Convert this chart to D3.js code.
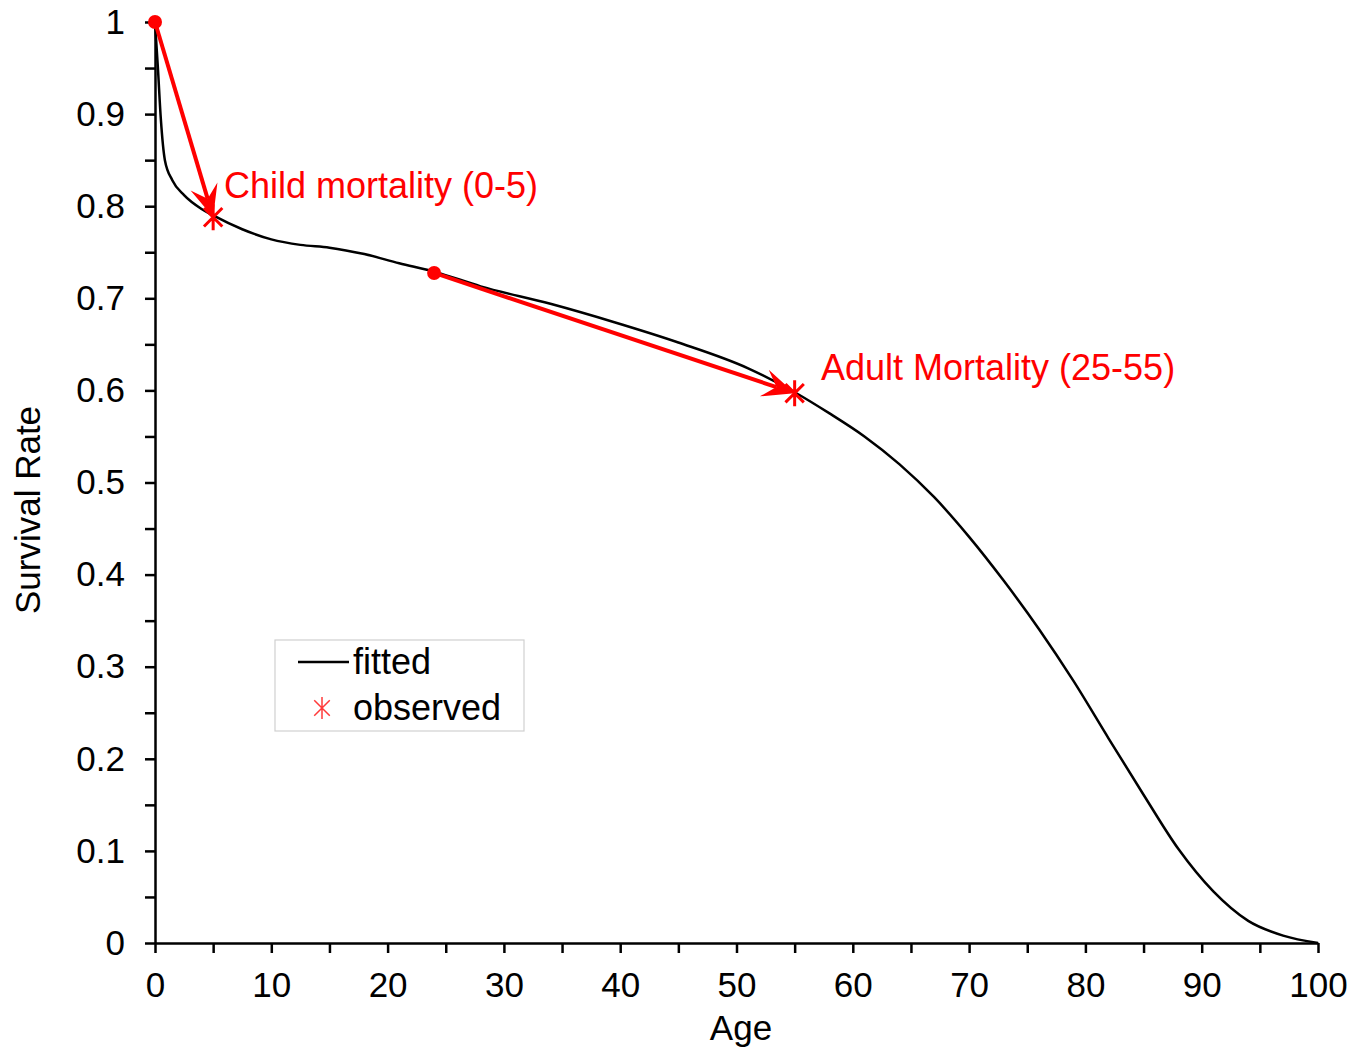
<!DOCTYPE html>
<html>
<head>
<meta charset="utf-8">
<script src="https://cdn.jsdelivr.net/npm/d3@7"></script>
<style>
  body { margin: 0; background: #fff; }
  text { font-family: "Liberation Sans", Arial, sans-serif; }
</style>
</head>
<body>
<div id="chart"></div>
<script>
(() => {

    ////////////////////////////////////
    ////////////// data ////////////////
    ////////////////////////////////////

    // fitted survival curve
    const ages = [0, 0.25, 0.5, 0.85, 1.5, 2.5, 4, 5, 7.5, 10, 12.5, 15, 18, 21, 24, 28, 34, 39.5, 45, 51, 55, 58, 61, 64, 67, 70, 73, 76, 79, 82, 85, 88, 91, 94, 97, 100]
    const fitted = [1, 0.95, 0.895, 0.85, 0.828, 0.812, 0.797, 0.79, 0.775, 0.764, 0.758, 0.755, 0.748, 0.738, 0.729, 0.713, 0.694, 0.674, 0.652, 0.624, 0.598, 0.575, 0.55, 0.52, 0.484, 0.441, 0.393, 0.341, 0.284, 0.222, 0.161, 0.102, 0.056, 0.024, 0.008, 0]

    // observed points (the arrow ends) and where each arrow starts
    const observedAges = [5, 55]
    const observed = [0.788, 0.597]
    const startAges = [0, 24]
    const startValues = [1, 0.7275]
    const annotations = ['Child mortality (0-5)', 'Adult Mortality (25-55)']

    const xTicks = d3.range(0, 101, 5)
    const yTicks = d3.range(0, 21).map(d => d / 20)

    const curve = ages.map((a, i) => ({ age: a, s: fitted[i] }))

    ////////////////////////////////////
    //////////// SVG Setup /////////////
    ////////////////////////////////////

    const svgWidth = 1354
    const svgHeight = 1048
    const margin = { left: 155, right: 36, top: 22, bottom: 105 }

    const svg = d3.select('#chart')
        .append('svg')
        .attr('width', svgWidth)
        .attr('height', svgHeight)

    const red = '#ff0000'
    const fontSize = 35

    ////////////////////////////////////
    //////////////scales////////////////
    ////////////////////////////////////

    const xScale = d3.scaleLinear()
        .domain([0, 100])
        .range([margin.left, svgWidth - margin.right])

    const yScale = d3.scaleLinear()
        .domain([0, 1])
        .range([svgHeight - margin.bottom, margin.top])

    ////////////////////////////////////
    ///////////////axis/////////////////
    ////////////////////////////////////

    const fmt = d3.format('~g')

    const xAxis = d3.axisBottom(xScale)
        .tickValues(xTicks)
        .tickSize(10)
        .tickPadding(19)
        .tickSizeOuter(0)
        .tickFormat(d => d % 10 === 0 ? fmt(d) : '')

    const yAxis = d3.axisLeft(yScale)
        .tickValues(yTicks)
        .tickSize(10)
        .tickPadding(20)
        .tickSizeOuter(0)
        .tickFormat(d => Math.round(d * 100) % 10 === 0 ? fmt(d) : '')

    const gx = svg.append('g')
        .attr('transform', 'translate(0,' + yScale(0) + ')')
        .call(xAxis)

    const gy = svg.append('g')
        .attr('transform', 'translate(' + xScale(0) + ',0)')
        .call(yAxis)

    for (const g of [gx, gy]) {
        g.select('.domain').attr('stroke', '#000').attr('stroke-width', 2.5)
        g.selectAll('.tick line').attr('stroke', '#000').attr('stroke-width', 2.5)
        g.selectAll('.tick text')
            .attr('fill', '#000')
            .style('font-size', fontSize + 'px')
            .style('font-family', '"Liberation Sans", Arial, sans-serif')
    }

    // axis titles
    svg.append('text')
        .attr('x', 741)
        .attr('y', 1040)
        .attr('text-anchor', 'middle')
        .style('font-size', fontSize + 'px')
        .text('Age')

    svg.append('text')
        .attr('transform', 'translate(40,' + 510 + ') rotate(-90)')
        .attr('text-anchor', 'middle')
        .style('font-size', fontSize + 'px')
        .text('Survival Rate')

    ////////////////////////////////////
    ////////////// DOM /////////////////
    ////////////////////////////////////

    const line = d3.line()
        .x(d => xScale(d.age))
        .y(d => yScale(d.s))
        .curve(d3.curveMonotoneX)

    svg.append('path')
        .datum(curve)
        .attr('d', line)
        .attr('fill', 'none')
        .attr('stroke', '#000')
        .attr('stroke-width', 2.5)

    // star marker (x plus a vertical bar), like the spreadsheet one
    const star = (r) => {
        const d = r * Math.SQRT1_2
        return 'M' + (-d) + ',' + (-d) + 'L' + d + ',' + d +
            'M' + (-d) + ',' + d + 'L' + d + ',' + (-d) +
            'M0,' + (-r) + 'L0,' + r
    }

    const arrows = observedAges.map((a, i) => ({
        x0: xScale(startAges[i]), y0: yScale(startValues[i]),
        x1: xScale(a), y1: yScale(observed[i]),
        label: annotations[i]
    }))

    const headLen = 32, headHalf = 14, notch = 0.6

    arrows.forEach(d => {
        const dx = d.x1 - d.x0, dy = d.y1 - d.y0
        const len = Math.hypot(dx, dy)
        const ux = dx / len, uy = dy / len
        const px = -uy, py = ux
        const bx = d.x1 - ux * headLen, by = d.y1 - uy * headLen
        const nx = d.x1 - ux * headLen * notch, ny = d.y1 - uy * headLen * notch

        svg.append('line')
            .attr('x1', d.x0).attr('y1', d.y0)
            .attr('x2', nx).attr('y2', ny)
            .attr('stroke', red)
            .attr('stroke-width', 4)

        svg.append('path')
            .attr('d', 'M' + d.x1 + ',' + d.y1 +
                'L' + (bx + px * headHalf) + ',' + (by + py * headHalf) +
                'L' + nx + ',' + ny +
                'L' + (bx - px * headHalf) + ',' + (by - py * headHalf) + 'Z')
            .attr('fill', red)

        svg.append('circle')
            .attr('cx', d.x0).attr('cy', d.y0)
            .attr('r', 7)
            .attr('fill', red)

        svg.append('path')
            .attr('transform', 'translate(' + d.x1 + ',' + d.y1 + ')')
            .attr('d', star(13))
            .attr('fill', 'none')
            .attr('stroke', red)
            .attr('stroke-width', 3)
    })

    // annotation labels
    svg.append('text')
        .attr('x', 224).attr('y', 198)
        .attr('fill', red)
        .style('font-size', '36px')
        .text(arrows[0].label)

    svg.append('text')
        .attr('x', 821).attr('y', 380)
        .attr('fill', red)
        .style('font-size', '36px')
        .text(arrows[1].label)

    ////////////////////////////////////
    ////////////// legend //////////////
    ////////////////////////////////////

    const legend = svg.append('g').attr('transform', 'translate(275,640)')

    legend.append('rect')
        .attr('width', 249).attr('height', 91)
        .attr('fill', '#fff')
        .attr('stroke', '#d0d0d0')
        .attr('stroke-width', 1.2)

    legend.append('line')
        .attr('x1', 23).attr('x2', 74)
        .attr('y1', 22).attr('y2', 22)
        .attr('stroke', '#000')
        .attr('stroke-width', 2.5)

    legend.append('text')
        .attr('x', 78).attr('y', 34)
        .style('font-size', '36px')
        .text('fitted')

    legend.append('path')
        .attr('transform', 'translate(47,68)')
        .attr('d', star(11))
        .attr('fill', 'none')
        .attr('stroke', '#ff3b3b')
        .attr('stroke-width', 1.5)

    legend.append('text')
        .attr('x', 78).attr('y', 80)
        .style('font-size', '36px')
        .text('observed')

})()
</script>
</body>
</html>
